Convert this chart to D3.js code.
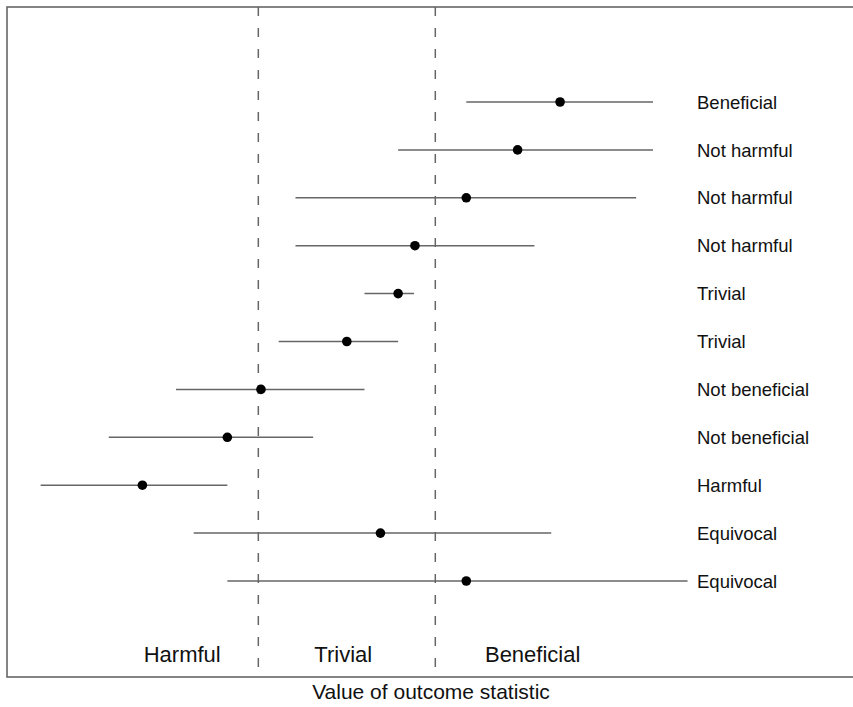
<!DOCTYPE html>
<html>
<head>
<meta charset="utf-8">
<script src="https://cdn.jsdelivr.net/npm/d3@7"></script>
<style>
  body { margin: 0; background: #fff; }
  text { font-family: "Liberation Sans", Arial, Helvetica, sans-serif; fill: #111; }
</style>
</head>
<body>
<script>

var w = 853;
var h = 707;

// values of the outcome statistic (thresholds at -1 and +1)
var inference = ["Beneficial", "Not harmful", "Not harmful", "Not harmful", "Trivial", "Trivial",
                 "Not beneficial", "Not beneficial", "Harmful", "Equivocal", "Equivocal"];
var estimate = [2.41, 1.93, 1.35, 0.77, 0.58, 0.00, -0.97, -1.35, -2.31, 0.38, 1.35];
var lower    = [1.35, 0.58, -0.58, -0.58, 0.20, -0.77, -1.93, -2.69, -3.46, -1.73, -1.35];
var upper    = [3.46, 3.46, 3.27, 2.12, 0.76, 0.58, 0.20, -0.38, -1.35, 2.31, 3.85];

var thresholds = [-1, 1];
var zoneNames = ["Harmful", "Trivial", "Beneficial"];
var zoneLabelAt = [-1.86, -0.04, 2.10];

var box = { left: 7, top: 7, right: 853, bottom: 677 };

var svg = d3.select("body")
    .append("svg")
    .attr("width", w)
    .attr("height", h);

var xScale = d3.scaleLinear()
    .domain([-3.84, 5.72])
    .range([box.left, box.right]);

var yScale = d3.scalePoint()
    .domain(d3.range(estimate.length))
    .range([102, 581]);

// plot frame
svg.append("rect")
    .attr("x", box.left)
    .attr("y", box.top)
    .attr("width", box.right - box.left + 5)
    .attr("height", box.bottom - box.top)
    .attr("fill", "none")
    .attr("stroke", "#666")
    .attr("stroke-width", 1.6);

// threshold lines
svg.selectAll(".threshold")
    .data(thresholds)
    .enter()
    .append("line")
    .attr("class", "threshold")
    .attr("x1", function (d) { return xScale(d); })
    .attr("x2", function (d) { return xScale(d); })
    .attr("y1", box.top)
    .attr("y2", box.bottom)
    .attr("stroke", "#666")
    .attr("stroke-width", 1.5)
    .attr("stroke-dasharray", "9,12");

// confidence intervals
svg.selectAll(".ci")
    .data(estimate)
    .enter()
    .append("line")
    .attr("class", "ci")
    .attr("x1", function (d, i) { return xScale(lower[i]); })
    .attr("x2", function (d, i) { return xScale(upper[i]); })
    .attr("y1", function (d, i) { return yScale(i); })
    .attr("y2", function (d, i) { return yScale(i); })
    .attr("stroke", "#666")
    .attr("stroke-width", 1.5);

// point estimates
svg.selectAll(".pt")
    .data(estimate)
    .enter()
    .append("circle")
    .attr("class", "pt")
    .attr("cx", function (d) { return xScale(d); })
    .attr("cy", function (d, i) { return yScale(i); })
    .attr("r", 4.8)
    .attr("fill", "#000");

// inference labels
svg.selectAll(".inf")
    .data(inference)
    .enter()
    .append("text")
    .attr("class", "inf")
    .attr("x", 697)
    .attr("y", function (d, i) { return yScale(i); })
    .attr("dy", "0.36em")
    .style("font-size", "18.5px")
    .text(function (d) { return d; });

// zone names along the bottom
svg.selectAll(".zone")
    .data(zoneNames)
    .enter()
    .append("text")
    .attr("class", "zone")
    .attr("x", function (d, i) { return xScale(zoneLabelAt[i]); })
    .attr("y", 662)
    .attr("text-anchor", "middle")
    .style("font-size", "22px")
    .text(function (d) { return d; });

// axis title
svg.append("text")
    .attr("x", 431)
    .attr("y", 699)
    .attr("text-anchor", "middle")
    .style("font-size", "21px")
    .text("Value of outcome statistic");

</script>
</body>
</html>
